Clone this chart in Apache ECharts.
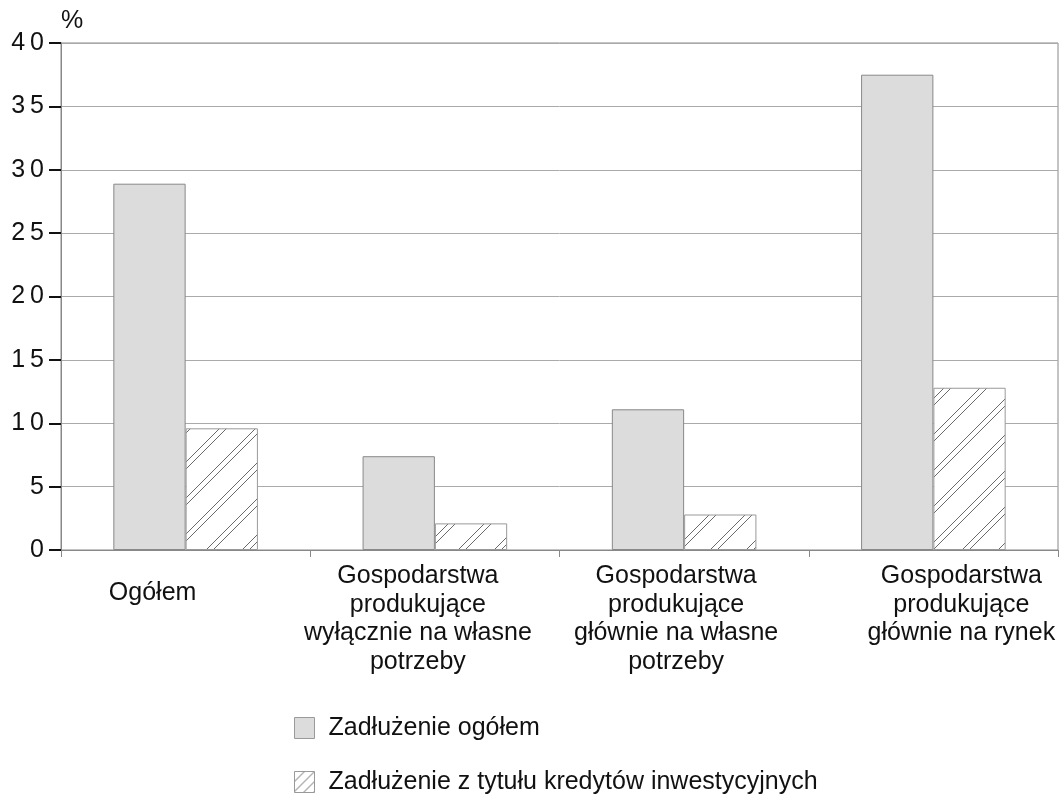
<!DOCTYPE html>
<html>
<head>
<meta charset="utf-8">
<script src="https://cdn.jsdelivr.net/npm/echarts@6/dist/echarts.min.js"></script>
<style>
  html, body { margin: 0; padding: 0; background: #fff; }
  #chart { width: 1063px; height: 796px; }
</style>
</head>
<body>
<div id="chart"></div>
<script>
// dane
const categories = [
    "Ogółem",
    "Gospodarstwa\nprodukujące\nwyłącznie na własne\npotrzeby",
    "Gospodarstwa\nprodukujące\ngłównie na własne\npotrzeby",
    "Gospodarstwa\nprodukujące\ngłównie na rynek",
];
const seriesNames = ["Zadłużenie ogółem", "Zadłużenie z tytułu kredytów inwestycyjnych"];
const totalDebt = [28.9, 7.4, 11.1, 37.5];
const investDebt = [9.6, 2.1, 2.8, 12.8];
const yTicks = [0, 5, 10, 15, 20, 25, 30, 35, 40];

// przesunięcia podpisów kategorii (jak w oryginale)
const labelRich = {
    c0: { padding: [0, 66, 0, 0], lineHeight: 62 },
    c1: { padding: [0, 34, 0, 0] },
    c2: { padding: [0, 16, 0, 0] },
    c3: { padding: [0, 0, 0, 56] },
};

// wzór kreskowania
const makeHatch = (size, gaps) => {
    const c = document.createElement("canvas");
    c.width = size;
    c.height = size;
    const ctx = c.getContext("2d");
    ctx.fillStyle = "#fff";
    ctx.fillRect(0, 0, size, size);
    ctx.strokeStyle = "#444";
    ctx.lineWidth = 0.8;
    gaps.forEach((g) => {
        for (let k = -1; k <= 1; k++) {
            const o = g + k * size;
            ctx.beginPath();
            ctx.moveTo(o, size);
            ctx.lineTo(o + size, 0);
            ctx.stroke();
        }
    });
    return c;
};
const hatch = makeHatch(36, [0, 7]);
const hatchSmall = makeHatch(10, [0]);

const chart = echarts.init(document.getElementById("chart"));
chart.setOption({
    animation: false,
    textStyle: { fontFamily: "Liberation Sans, Arial, sans-serif" },
    grid: {
        left: 61, right: 5, top: 43, bottom: 246,
        show: true, borderColor: "#888", borderWidth: 1,
    },
    legend: {
        orient: "vertical",
        left: 294,
        top: 714,
        padding: 0,
        height: 90,
        itemGap: 26,
        itemWidth: 20,
        itemHeight: 21,
        icon: "rect",
        textStyle: { fontSize: 25, lineHeight: 28, color: "#111", padding: [0, 0, 0, 9] },
        data: [
            { name: seriesNames[0], itemStyle: { color: "#dcdcdc", borderColor: "#999", borderWidth: 1 } },
            { name: seriesNames[1], itemStyle: { color: { image: hatchSmall, repeat: "repeat" }, borderColor: "#999", borderWidth: 1 } },
        ],
    },
    xAxis: {
        type: "category",
        data: categories,
        axisLine: { lineStyle: { color: "#888" } },
        axisTick: { show: true, length: 7, lineStyle: { color: "#888" } },
        axisLabel: {
            fontSize: 25, color: "#111", lineHeight: 28.5, margin: 12, interval: 0,
            formatter: (v, i) => `{c${i}|${v}}`,
            rich: labelRich,
        },
    },
    yAxis: {
        type: "value",
        min: 0,
        max: 40,
        interval: 5,
        name: "%",
        nameLocation: "end",
        nameGap: 9,
        nameTextStyle: { fontSize: 25, color: "#111", align: "left", padding: [0, 0, 0, 0] },
        axisLine: { show: true, lineStyle: { color: "#888" } },
        axisTick: { show: true, length: 12, lineStyle: { color: "#111", width: 2 } },
        axisLabel: {
            fontSize: 25, color: "#111", margin: 17,
            formatter: (v) => (yTicks.includes(v) ? String(v).split("").join("\u2009") : ""),
        },
        splitLine: { lineStyle: { color: "#aaa" } },
    },
    series: [
        {
            name: seriesNames[0],
            type: "bar",
            data: totalDebt,
            barGap: "0%",
            barCategoryGap: "42%",
            itemStyle: { color: "#dcdcdc", borderColor: "#888", borderWidth: 1 },
        },
        {
            name: seriesNames[1],
            type: "bar",
            data: investDebt,
            itemStyle: { color: { image: hatch, repeat: "repeat" }, borderColor: "#999", borderWidth: 1 },
        },
    ],
});
</script>
</body>
</html>
